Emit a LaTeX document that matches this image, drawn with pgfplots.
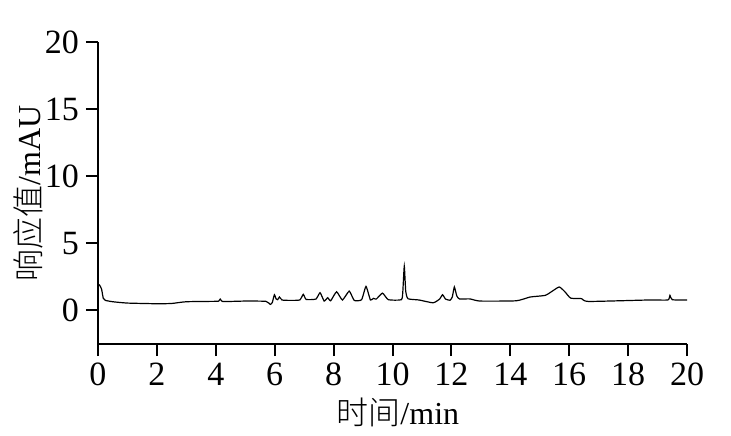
\documentclass[border=0pt]{standalone}
\usepackage{fontspec}
\setmainfont{Liberation Serif}
\newfontfamily\cjk{Noto Sans CJK SC Light}
\usepackage{pgfplots}
\pgfplotsset{compat=1.18}
\begin{document}
\begin{tikzpicture}
\begin{axis}[
  name=ax,
  scale only axis,
  width=294.5pt, height=151pt,
  xmin=0, xmax=20, ymin=-2.5, ymax=20,
  xtick={0,2,...,20}, ytick={0,5,10,15,20},
  axis x line*=bottom, axis y line*=left,
  axis line style={-, line width=1pt},
  tick style={line width=1pt, black},
  major tick length=6pt,
  tick align=outside,
  font=\fontsize{17}{20}\selectfont,
  /pgf/number format/assume math mode=true,
  xlabel={{\cjk 时间}/min},
  ylabel={{\cjk 响应值}/mAU},
  x label style={at={(axis description cs:0.509,-0.228)},anchor=center,font=\fontsize{16}{19}\selectfont},
  y label style={at={(axis description cs:-0.119,0.5)},anchor=center,font=\fontsize{16}{19}\selectfont},
  clip=false,
]
\addplot[black, line width=0.6pt, smooth, tension=0.3] coordinates {
(0,1.95) (0.05,1.9) (0.12,1.6) (0.18,0.9) (0.25,0.75) (0.5,0.65) (1.0,0.55)
(2.0,0.5) (2.5,0.52) (3.0,0.65) (4.0,0.68) (4.1,0.7) (4.15,0.85) (4.2,0.7)
(4.3,0.66) (5.0,0.7) (5.7,0.68) (5.85,0.45) (5.92,0.6) (5.99,1.17) (6.05,0.85)
(6.1,0.8) (6.16,1.0) (6.25,0.78) (6.5,0.75) (6.85,0.78) (6.97,1.2) (7.07,0.82)
(7.4,0.85) (7.54,1.32) (7.68,0.7) (7.8,0.95) (7.9,0.72) (8.1,1.39) (8.3,0.78)
(8.53,1.44) (8.7,0.75) (8.95,0.8) (9.1,1.79) (9.25,0.78) (9.35,0.9) (9.45,0.85)
(9.66,1.29) (9.86,0.8) (10.3,0.8) (10.35,1.4) (10.4,3.3) (10.45,1.4) (10.53,0.87)
(10.9,0.78) (11.38,0.57) (11.6,0.85) (11.7,1.17) (11.8,0.85) (11.95,0.76)
(12.03,1.0) (12.1,1.75) (12.18,1.1) (12.27,0.86) (12.63,0.86) (12.97,0.7)
(14.2,0.72) (14.67,1.0) (15.18,1.12) (15.4,1.4) (15.66,1.75) (15.85,1.4)
(16.05,0.92) (16.42,0.88) (16.65,0.67) (18.7,0.78) (19.35,0.78) (19.42,1.12)
(19.5,0.8) (20,0.78)
};
\end{axis}
\pgfresetboundingbox
\path ([shift={(-49pt,-45.5pt)}]ax.south west) rectangle ++(365.5pt,217.5pt);
\end{tikzpicture}
\end{document}
